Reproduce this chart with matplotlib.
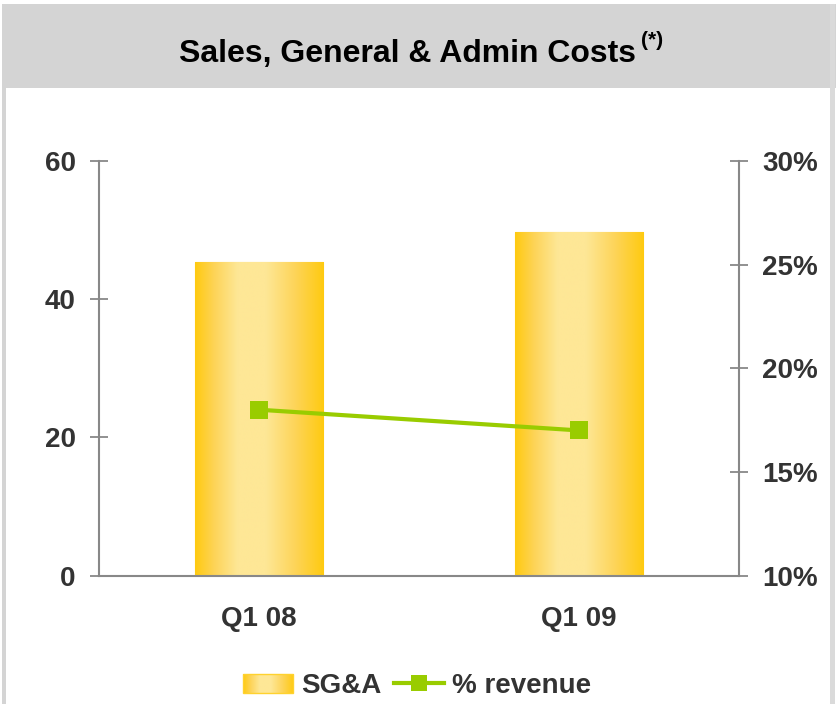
import numpy as np
import matplotlib
matplotlib.use("Agg")
import matplotlib.pyplot as plt
from matplotlib.patches import Rectangle, Patch
from matplotlib.lines import Line2D
from matplotlib.colors import LinearSegmentedColormap
from matplotlib.ticker import FuncFormatter
from matplotlib.legend_handler import HandlerBase
from matplotlib.image import BboxImage
from matplotlib.transforms import Bbox, TransformedBbox

plt.rcParams['font.family'] = ['Liberation Sans', 'DejaVu Sans']

# data
quarters = ['Q1 08', 'Q1 09']
sga = [45.4, 49.7]
pct_revenue = [18.0, 17.0]
left_ticks = [0, 20, 40, 60]
right_ticks = [10, 15, 20, 25, 30]

W, H = 839, 704
fig = plt.figure(figsize=(W / 100, H / 100), dpi=100)
fig.patch.set_facecolor('white')

def px(x0, y0, w, h):
    # pixel box (top-left origin) -> figure fraction
    return (x0 / W, 1 - (y0 + h) / H), w / W, h / H

# panel frame + grey header
for (xy, w, h), c in [(px(2, 4, 834, 84), '#d4d4d4'),
                      (px(2, 4, 4, 700), '#d4d4d4'),
                      (px(830, 4, 5, 700), '#dadada')]:
    fig.add_artist(Rectangle(xy, w, h, transform=fig.transFigure,
                             facecolor=c, edgecolor='none', zorder=0))

fig.text(407.5 / W, 1 - 62 / H, 'Sales, General & Admin Costs', ha='center', va='baseline',
         fontsize=23, fontweight='bold', color='black')
fig.text(641 / W, 1 - 46 / H, '(*)', ha='left', va='baseline',
         fontsize=15, fontweight='bold', color='black')

ax = fig.add_axes([98.7 / W, 128.5 / H, (739 - 98.7) / W, (575.5 - 161) / H])
ax.set_facecolor('none')

cmap = LinearSegmentedColormap.from_list('gold', [
    (0.0, '#FFCA10'), (0.15, '#FDD458'), (0.33, '#FEE796'),
    (0.55, '#FEE796'), (0.78, '#FDD458'), (1.0, '#FFCA10')])
grad = np.linspace(0, 1, 256).reshape(1, -1)

x = np.arange(len(quarters))
bars = ax.bar(x, sga, width=0.4, color='#FEE08A', edgecolor='#FFD22E', linewidth=0.8, zorder=2)
for b in bars:
    bx, by = b.get_x(), b.get_y()
    bw, bh = b.get_width(), b.get_height()
    im = ax.imshow(grad, cmap=cmap, aspect='auto', extent=[bx, bx + bw, by, by + bh],
                   zorder=2.5, interpolation='bilinear')
    im.set_clip_path(b)

ax.set_xlim(-0.5, 1.5)
ax.set_ylim(0, 60)
ax.set_yticks(left_ticks)
ax.set_xticks(x)
ax.set_xticklabels(quarters)

spine_c = '#888888'
for s in ['top', 'right']:
    ax.spines[s].set_visible(False)
for s in ['left', 'bottom']:
    ax.spines[s].set_color(spine_c)
    ax.spines[s].set_linewidth(1.5)
    ax.spines[s].set_zorder(3)

ax.tick_params(axis='y', direction='inout', length=13, width=1.3, color=spine_c,
               pad=10, labelsize=20, labelcolor='#333333')
ax.tick_params(axis='x', length=0, pad=22, labelsize=20, labelcolor='#333333')
for lab in ax.get_xticklabels() + ax.get_yticklabels():
    lab.set_fontweight('bold')

ax2 = ax.twinx()
ax2.plot(x, pct_revenue, color='#99CC00', linewidth=3, marker='s', markersize=12.5,
         markeredgewidth=0, zorder=4)
ax2.set_ylim(10, 30)
ax2.set_yticks(right_ticks)
ax2.yaxis.set_major_formatter(FuncFormatter(lambda v, p: f'{v:.0f}%'))
for s in ['top', 'left', 'bottom']:
    ax2.spines[s].set_visible(False)
ax2.spines['right'].set_color(spine_c)
ax2.spines['right'].set_linewidth(1.5)
ax2.tick_params(axis='y', direction='inout', length=13, width=1.3, color=spine_c,
                pad=10, labelsize=20, labelcolor='#333333')
for lab in ax2.get_yticklabels():
    lab.set_fontweight('bold')


class GradientHandler(HandlerBase):
    def create_artists(self, legend, orig, xd, yd, w, h, fontsize, trans):
        bb = TransformedBbox(Bbox.from_bounds(-xd, -yd, w, h), trans)
        img = BboxImage(bb, cmap=cmap, interpolation='bilinear')
        img.set_data(grad)
        edge = Rectangle((-xd, -yd), w, h, facecolor='none', edgecolor='#FFD22E',
                         linewidth=1, transform=trans)
        return [img, edge]


bar_handle = Patch(facecolor='#FEE08A')
line_handle = Line2D([0], [0], color='#99CC00', linewidth=3, marker='s', markersize=12,
                     markeredgewidth=0)
leg = fig.legend([bar_handle, line_handle], ['SG&A', '% revenue'], loc='center', ncol=2,
                 bbox_to_anchor=(417 / W, 1 - 686 / H), frameon=False,
                 handlelength=1.8, handleheight=0.65, handletextpad=0.3, columnspacing=0.45,
                 handler_map={Patch: GradientHandler()},
                 prop={'size': 20, 'weight': 'bold'})
for t in leg.get_texts():
    t.set_color('#333333')

fig.savefig('out.png', dpi=100)
